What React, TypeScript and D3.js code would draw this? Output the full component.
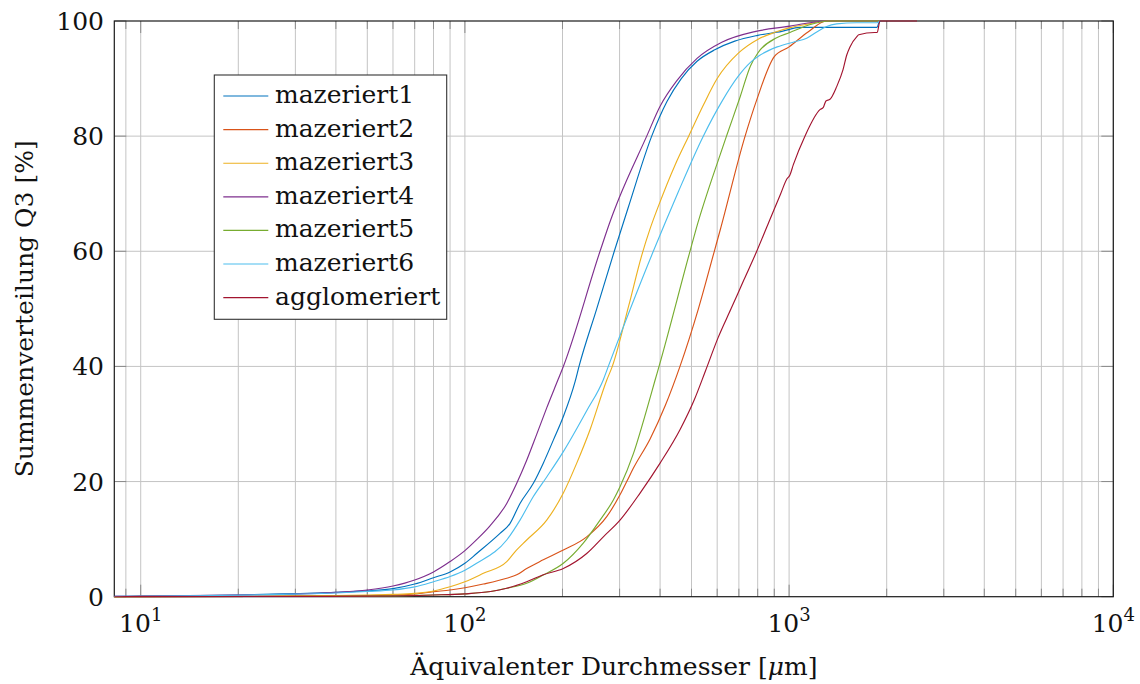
import React from "react";
import * as d3 from "d3";

// Particle size distributions: [diameter in µm, cumulative Q3 in %]
const mazeriert1: [number, number][] = [
  [8.29, 0.05], [10, 0.1], [20, 0.3], [30, 0.55], [40, 0.75], [50, 1.0], [60, 1.4],
  [70, 2.2], [80, 3.3], [90, 4.3], [100, 5.8], [108.7, 7.5], [128.3, 11.0], [137.7, 12.7],
  [147.9, 16.2], [162.6, 19.7], [174.5, 23.2], [187.4, 27.2], [201.2, 31.3], [218.6, 37.3],
  [224.9, 40], [255, 50], [288.9, 60], [319, 67.6], [376.9, 80], [420, 86], [465, 90],
  [520, 93], [590, 95], [680, 96.5], [800, 97.5], [950, 98.2], [1080, 98.9], [1866, 98.9],
  [1890, 99.6], [1910, 100],
];

const mazeriert2: [number, number][] = [
  [8.29, 0], [10, 0.02], [30, 0.08], [50, 0.15], [60, 0.3], [70, 0.46], [80, 0.87],
  [90, 1.16], [100, 1.56], [114, 2.2], [134.6, 3.2], [144.5, 3.8], [155.1, 4.9],
  [174.5, 6.4], [201.2, 8.1], [237.5, 10.4], [273.8, 13.9], [300.9, 17.7], [315.6, 20],
  [330.7, 22.3], [372.6, 27.4], [415, 33.2], [460.7, 40], [525, 50], [587.9, 60],
  [613, 63.7], [731.6, 80], [794.6, 86.3], [900, 93.8], [1000, 95.5], [1144, 98.1],
  [1305, 100], [1900, 100],
];

const mazeriert3: [number, number][] = [
  [8.29, 0.02], [10, 0.05], [20, 0.1], [30, 0.15], [40, 0.2], [50, 0.3], [60, 0.4],
  [70, 0.58], [80, 1.0], [90, 1.74], [100, 2.6], [114, 4.06], [134.6, 6.08], [142.7, 7.8],
  [155.1, 9.85], [178.8, 13.3], [201.2, 18.0], [221.3, 23.2], [243.2, 29.0], [273.8, 37.6],
  [284.9, 40], [320, 50.5], [351.1, 59.3], [372, 63.8], [395, 67.8], [445, 75], [490, 80],
  [545, 85.5], [600, 90], [700, 94.5], [800, 96.8], [900, 98], [1000, 98.8], [1150, 99.5],
  [1300, 100], [1900, 100],
];

const mazeriert4: [number, number][] = [
  [8.29, 0.05], [10, 0.1], [20, 0.3], [30, 0.45], [40, 0.75], [50, 1.16], [60, 1.85],
  [70, 2.9], [80, 4.3], [90, 6.1], [100, 8.0], [108.7, 9.9], [119.5, 12.3], [134.6, 16.2],
  [144.5, 19.7], [155.1, 23.7], [166.5, 28.2], [178.8, 32.8], [194.1, 37.8], [201.2, 40],
  [261.1, 60], [282.3, 65.6], [298.8, 69.2], [363.8, 80], [400, 85.2], [450, 89.6],
  [520, 93.5], [620, 96.3], [790, 98.2], [1006, 99.1], [1160, 99.7], [1300, 100], [1900, 100],
];

const mazeriert5: [number, number][] = [
  [8.29, 0], [10, 0.02], [30, 0.05], [50, 0.1], [60, 0.15], [80, 0.3], [100, 0.5],
  [120, 0.9], [134.6, 1.46], [155.1, 2.33], [174.5, 3.77], [201.2, 5.8], [231.8, 9.3],
  [261.1, 13.3], [287, 16.8], [300.9, 19.1], [330.7, 24.8], [363.8, 32.5], [385.9, 37.6],
  [397, 40], [494.6, 60], [516.8, 63.9], [613, 76.8], [642.8, 80.2], [706, 86.8],
  [760, 92.2], [800, 94.4], [915.6, 97.1], [1006, 98.0], [1150, 99.3], [1337, 100], [1900, 100],
];

const mazeriert6: [number, number][] = [
  [8.29, 0.03], [10, 0.08], [20, 0.25], [30, 0.45], [40, 0.65], [50, 0.9], [60, 1.16],
  [70, 1.7], [80, 2.6], [90, 3.5], [100, 4.6], [108.7, 5.8], [134.6, 9.85], [147.9, 13.3],
  [162.6, 17.4], [178.8, 20.8], [201.2, 25.2], [237.5, 32.3], [267.3, 37.7], [276.9, 40],
  [381.2, 60], [415, 65], [455, 70.3], [543.6, 80], [620, 86], [699, 90.5], [760, 92.8],
  [810, 94.0], [919, 95.5], [1040, 96.4], [1133, 97.0], [1217, 98.1], [1300, 99.0],
  [1402, 99.5], [1618, 99.7], [1866, 99.7], [1906, 100],
];

const agglomeriert: [number, number][] = [
  [8.29, 0], [10, 0.02], [30, 0.05], [50, 0.1], [80, 0.3], [100, 0.5], [120, 0.9],
  [134.6, 1.46], [155.1, 2.6], [174.5, 3.8], [201.2, 4.9], [237.5, 7.5], [267.3, 10.4],
  [300.9, 13.3], [347, 18.0], [400, 23.2], [460.7, 29.0], [510, 34.2], [552, 39.2],
  [604, 45], [662, 50], [725, 55], [794.6, 60], [865, 65], [942, 70], [985, 72.6],
  [1005, 73.2], [1030, 75], [1119, 80], [1245, 84.6], [1275, 85.0], [1299, 86.1],
  [1337, 86.4], [1402, 88.6], [1466, 91.5], [1506, 94.1], [1541, 95.5], [1618, 97.3],
  [1640, 97.6], [1835, 98.0], [1870, 98.0], [1906, 100], [2481, 100],
];

const seriesNames = [
  "mazeriert1", "mazeriert2", "mazeriert3", "mazeriert4", "mazeriert5", "mazeriert6", "agglomeriert",
];
const seriesData = [mazeriert1, mazeriert2, mazeriert3, mazeriert4, mazeriert5, mazeriert6, agglomeriert];
const seriesColors = ["#0072BD", "#D95319", "#EDB120", "#7E2F8E", "#77AC30", "#4DBEEE", "#A2142F"];

const yTickValues = [0, 20, 40, 60, 80, 100];
const xDecades = [1, 2, 3, 4];

const xLabel = "Äquivalenter Durchmesser";
const yLabel = "Summenverteilung Q3 [%]";

const W = 1140;
const H = 684;
const plot = { left: 114.3, right: 1113.3, top: 21, bottom: 596.7 };
const FONT = "'DejaVu Serif', 'Liberation Serif', serif";
const FS = 25;

export default function App() {
  const x = d3.scaleLog().domain([8.29, 10000]).range([plot.left, plot.right]);
  const y = d3.scaleLinear().domain([0, 100]).range([plot.bottom, plot.top]);

  const allXTicks = x.ticks().filter((t) => t >= 8.29 && t <= 10000);
  const isMajor = (t: number) => Math.abs(Math.log10(t) - Math.round(Math.log10(t))) < 1e-9;

  const line = d3
    .line<[number, number]>()
    .x((d) => x(d[0]))
    .y((d) => y(d[1]))
    .curve(d3.curveMonotoneX);

  const legend = { x: 214.3, y: 75, w: 232.4, h: 244.3, row0: 96, rowStep: 33.6 };

  return (
    <svg
      width={W}
      height={H}
      viewBox={`0 0 ${W} ${H}`}
      style={{ position: "absolute", left: 0, top: 0, background: "#fff", fontFamily: FONT }}
    >
      <defs>
        <clipPath id="plotClip">
          <rect x={plot.left - 2} y={plot.top - 2} width={plot.right - plot.left + 4} height={plot.bottom - plot.top + 4} />
        </clipPath>
      </defs>
      <rect x={0} y={0} width={W} height={H} fill="#fff" />

      {/* grid */}
      <g stroke="#c4c4c4" strokeWidth={1}>
        {allXTicks.map((t, i) => (
          <line key={`gx${i}`} x1={x(t)} x2={x(t)} y1={plot.top} y2={plot.bottom} />
        ))}
        {yTickValues
          .filter((v) => v > 0 && v < 100)
          .map((v) => (
            <line key={`gy${v}`} x1={plot.left} x2={plot.right} y1={y(v)} y2={y(v)} />
          ))}
      </g>

      {/* tick marks */}
      <g stroke="#8a8a8a" strokeWidth={1}>
        {allXTicks.map((t, i) => {
          const len = isMajor(t) ? 12 : 8;
          return (
            <g key={`tx${i}`}>
              <line x1={x(t)} x2={x(t)} y1={plot.bottom} y2={plot.bottom - len} />
              <line x1={x(t)} x2={x(t)} y1={plot.top} y2={plot.top + len} />
            </g>
          );
        })}
        {yTickValues.map((v) => (
          <g key={`ty${v}`}>
            <line x1={plot.left} x2={plot.left + 12} y1={y(v)} y2={y(v)} />
            <line x1={plot.right} x2={plot.right - 12} y1={y(v)} y2={y(v)} />
          </g>
        ))}
      </g>

      {/* frame */}
      <rect
        x={plot.left}
        y={plot.top}
        width={plot.right - plot.left}
        height={plot.bottom - plot.top}
        fill="none"
        stroke="#1a1a1a"
        strokeWidth={1.2}
      />

      {/* curves */}
      <g clipPath="url(#plotClip)" fill="none" strokeWidth={1.15} strokeLinejoin="round">
        {seriesData.map((d, i) => (
          <path key={seriesNames[i]} d={line(d) || ""} stroke={seriesColors[i]} />
        ))}
      </g>

      {/* y tick labels */}
      <g fontSize={FS} fill="#111" textAnchor="end" style={{ fontFamily: FONT }}>
        {yTickValues.map((v) => (
          <text key={`ly${v}`} x={104} y={y(v) + 9}>
            {v}
          </text>
        ))}
      </g>

      {/* x tick labels */}
      <g fontSize={FS} fill="#111" textAnchor="middle" style={{ fontFamily: FONT }}>
        {xDecades.map((k) => (
          <text key={`lx${k}`} x={x(Math.pow(10, k))} y={632}>
            10
            <tspan dy={-11} fontSize={18}>
              {k}
            </tspan>
          </text>
        ))}
      </g>

      {/* axis labels */}
      <text
        x={(plot.left + plot.right) / 2}
        y={675}
        fontSize={FS}
        fill="#111"
        textAnchor="middle"
        style={{ fontFamily: FONT }}
      >
        {xLabel} [<tspan fontStyle="italic">μ</tspan>m]
      </text>
      <text
        transform={`translate(33, ${(plot.top + plot.bottom) / 2}) rotate(-90)`}
        fontSize={FS}
        fill="#111"
        textAnchor="middle"
        style={{ fontFamily: FONT }}
      >
        {yLabel}
      </text>

      {/* legend */}
      <g>
        <rect x={legend.x} y={legend.y} width={legend.w} height={legend.h} fill="#fff" stroke="#333" strokeWidth={1.1} />
        {seriesNames.map((name, i) => {
          const ry = legend.row0 + i * legend.rowStep;
          return (
            <g key={`lg${name}`}>
              <line x1={223.3} x2={268.3} y1={ry} y2={ry} stroke={seriesColors[i]} strokeWidth={1.15} />
              <text x={275} y={ry + 7} fontSize={FS} fill="#111" style={{ fontFamily: FONT }}>
                {name}
              </text>
            </g>
          );
        })}
      </g>
    </svg>
  );
}
